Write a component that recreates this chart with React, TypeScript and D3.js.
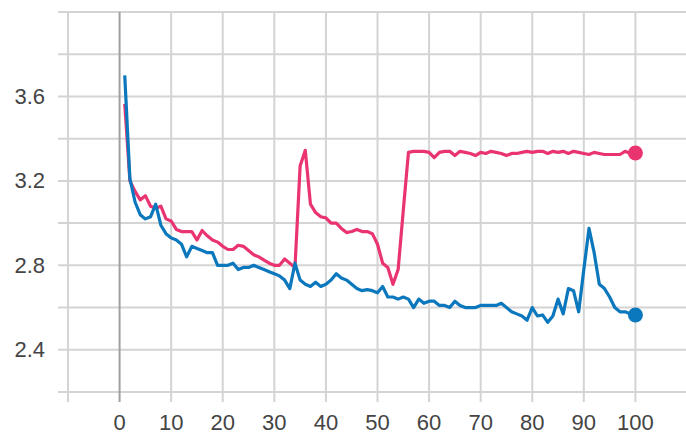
import React from "react";
import * as d3 from "d3";

const steps: number[] = Array.from({ length: 100 }, (_, i) => i + 1);

const pinkValues: number[] = [
  3.565, 3.2, 3.15, 3.11, 3.13, 3.08, 3.07, 3.08, 3.02, 3.01,
  2.97, 2.96, 2.96, 2.96, 2.92, 2.965, 2.94, 2.92, 2.91, 2.89,
  2.875, 2.875, 2.895, 2.89, 2.87, 2.85, 2.84, 2.825, 2.81, 2.8,
  2.8, 2.83, 2.81, 2.79, 3.27, 3.345, 3.09, 3.05, 3.03, 3.025,
  3.0, 3.0, 2.975, 2.955, 2.96, 2.97, 2.96, 2.96, 2.95, 2.9,
  2.81, 2.79, 2.71, 2.78, 3.06, 3.335, 3.34, 3.34, 3.34, 3.335,
  3.31, 3.335, 3.34, 3.34, 3.32, 3.34, 3.335, 3.33, 3.32, 3.335,
  3.33, 3.34, 3.335, 3.33, 3.32, 3.33, 3.33, 3.335, 3.34, 3.335,
  3.34, 3.34, 3.33, 3.34, 3.335, 3.34, 3.33, 3.34, 3.335, 3.33,
  3.325, 3.335, 3.33, 3.325, 3.325, 3.325, 3.325, 3.34, 3.33, 3.332,
];

const blueValues: number[] = [
  3.7, 3.21, 3.1, 3.04, 3.02, 3.03, 3.09, 2.99, 2.95, 2.93,
  2.92, 2.9, 2.84, 2.89, 2.88, 2.87, 2.86, 2.86, 2.8, 2.8,
  2.8, 2.81, 2.78, 2.79, 2.79, 2.8, 2.79, 2.78, 2.77, 2.76,
  2.75, 2.73, 2.69, 2.81, 2.73, 2.71, 2.7, 2.72, 2.7, 2.71,
  2.73, 2.76, 2.74, 2.73, 2.71, 2.69, 2.68, 2.685, 2.68, 2.67,
  2.7, 2.65, 2.65, 2.64, 2.65, 2.64, 2.6, 2.64, 2.62, 2.63,
  2.63, 2.61, 2.61, 2.6, 2.63, 2.61, 2.6, 2.6, 2.6, 2.61,
  2.61, 2.61, 2.61, 2.62, 2.6, 2.58, 2.57, 2.56, 2.54, 2.6,
  2.56, 2.565, 2.53, 2.56, 2.64, 2.57, 2.69, 2.68, 2.58, 2.78,
  2.975, 2.86, 2.71, 2.69, 2.65, 2.6, 2.58, 2.58, 2.57, 2.565,
];

const xTicks: number[] = [-10, 0, 10, 20, 30, 40, 50, 60, 70, 80, 90, 100];
const xLabels: number[] = [0, 10, 20, 30, 40, 50, 60, 70, 80, 90, 100];
const yGrid: number[] = [2.2, 2.4, 2.6, 2.8, 3.0, 3.2, 3.4, 3.6, 3.8, 4.0];
const yLabels: string[] = ["2.4", "2.8", "3.2", "3.6"];

const W = 686;
const H = 436;
const plotLeft = 68;
const plotTop = 12;
const plotBottom = 392;

const PINK = "#ea3470";
const BLUE = "#0b78be";

export default function App() {
  const x = d3.scaleLinear().domain([-10, 110]).range([plotLeft, 687]);
  const y = d3.scaleLinear().domain([2.2, 4.0]).range([plotBottom, plotTop]);

  const line = d3
    .line<number>()
    .x((_, i) => x(steps[i]))
    .y((d) => y(d));

  const font = "'Liberation Sans', Arial, sans-serif";

  return (
    <svg
      width={W}
      height={H}
      style={{ position: "absolute", left: 0, top: 0, background: "#fff" }}
    >
      {yGrid.map((v) => (
        <line
          key={"h" + v}
          x1={58}
          x2={W}
          y1={y(v)}
          y2={y(v)}
          stroke="#d4d4d4"
          strokeWidth={2}
        />
      ))}
      {xTicks.map((v) => (
        <line
          key={"v" + v}
          x1={x(v)}
          x2={x(v)}
          y1={plotTop}
          y2={402}
          stroke={v === 0 ? "#a0a0a0" : "#d4d4d4"}
          strokeWidth={2}
        />
      ))}
      {yLabels.map((s) => (
        <text
          key={"yl" + s}
          x={45}
          y={y(+s)}
          textAnchor="end"
          dominantBaseline="central"
          fontFamily={font}
          fontSize={22}
          fill="#444"
        >
          {s}
        </text>
      ))}
      {xLabels.map((v) => (
        <text
          key={"xl" + v}
          x={x(v)}
          y={430}
          textAnchor="middle"
          fontFamily={font}
          fontSize={22}
          fill="#444"
        >
          {v}
        </text>
      ))}
      <path
        d={line(pinkValues) || ""}
        fill="none"
        stroke={PINK}
        strokeWidth={3.2}
        strokeLinejoin="round"
      />
      <path
        d={line(blueValues) || ""}
        fill="none"
        stroke={BLUE}
        strokeWidth={3.2}
        strokeLinejoin="round"
      />
      <circle
        cx={x(steps[steps.length - 1])}
        cy={y(pinkValues[pinkValues.length - 1])}
        r={7.5}
        fill={PINK}
      />
      <circle
        cx={x(steps[steps.length - 1])}
        cy={y(blueValues[blueValues.length - 1])}
        r={7.5}
        fill={BLUE}
      />
    </svg>
  );
}
